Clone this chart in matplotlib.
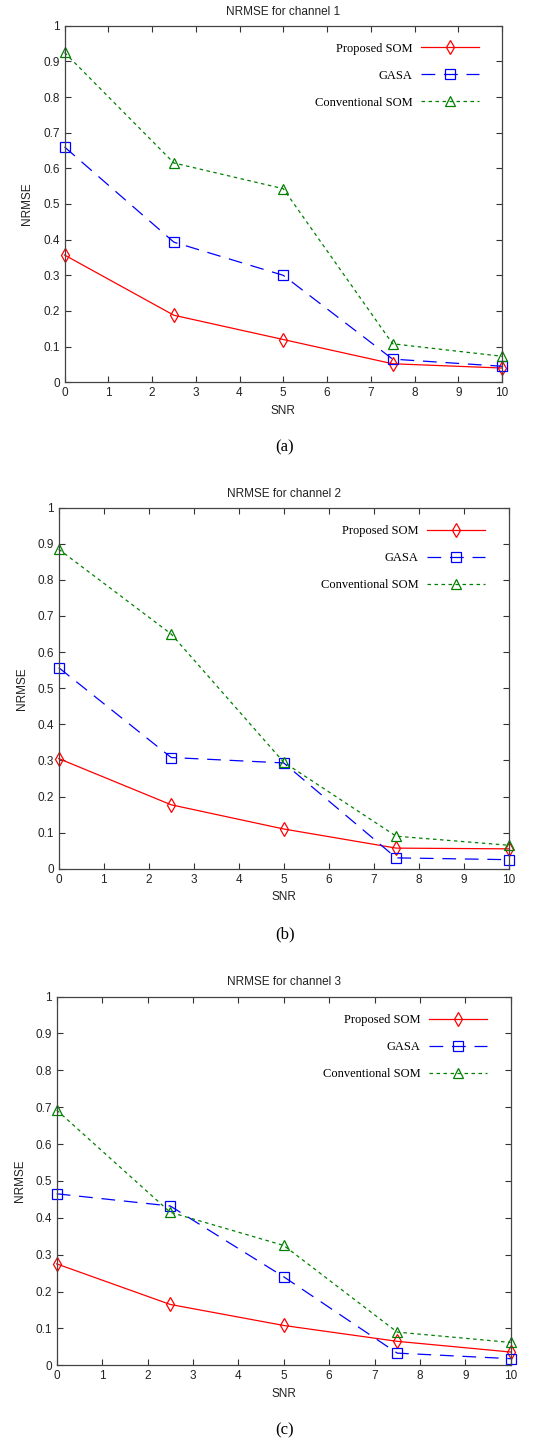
import matplotlib
matplotlib.use("Agg")
import matplotlib.pyplot as plt
from matplotlib.lines import Line2D

snr = [0, 2.5, 5, 7.5, 10]

ch1_proposed = [0.357, 0.188, 0.120, 0.052, 0.040]
ch1_gasa = [0.660, 0.393, 0.300, 0.065, 0.045]
ch1_conventional = [0.925, 0.615, 0.543, 0.108, 0.073]

ch2_proposed = [0.305, 0.177, 0.110, 0.057, 0.055]
ch2_gasa = [0.557, 0.308, 0.293, 0.030, 0.025]
ch2_conventional = [0.885, 0.650, 0.295, 0.090, 0.065]

ch3_proposed = [0.275, 0.165, 0.108, 0.065, 0.036]
ch3_gasa = [0.465, 0.432, 0.240, 0.033, 0.018]
ch3_conventional = [0.692, 0.415, 0.325, 0.090, 0.062]

titles = ["NRMSE for channel 1", "NRMSE for channel 2", "NRMSE for channel 3"]
captions = ["(a)", "(b)", "(c)"]
series_names = ["Proposed SOM", "GASA", "Conventional SOM"]
x_ticks = list(range(0, 11))
y_ticks = [0, 0.1, 0.2, 0.3, 0.4, 0.5, 0.6, 0.7, 0.8, 0.9, 1]
y_tick_labels = ["0", "0.1", "0.2", "0.3", "0.4", "0.5", "0.6", "0.7", "0.8", "0.9", "1"]

panels = [
    (ch1_proposed, ch1_gasa, ch1_conventional),
    (ch2_proposed, ch2_gasa, ch2_conventional),
    (ch3_proposed, ch3_gasa, ch3_conventional),
]

W, H = 544, 1443
fig = plt.figure(figsize=(W / 100, H / 100), dpi=100)
fig.patch.set_facecolor("white")

# axes boxes in pixels: left, right, top, bottom
boxes = [
    (64.5, 502.0, 25.7, 382.3),
    (58.7, 508.7, 507.7, 868.7),
    (56.7, 510.7, 996.5, 1365.3),
]
caption_y = [447, 934, 1430]

styles = [
    dict(color="#ff0000", ls="-", marker="d", ms=6.8),
    dict(color="#0000ff", ls=(0, (11, 7)), marker="s", ms=6.5),
    dict(color="#008000", ls=(0, (2.8, 2.8)), marker="^", ms=7),
]

sans = ["Liberation Sans", "DejaVu Sans"]
serif = ["Liberation Serif", "DejaVu Serif"]

for i, (series, (l, r, t, b)) in enumerate(zip(panels, boxes)):
    ax = fig.add_axes([l / W, (H - b) / H, (r - l) / W, (b - t) / H])
    handles = []
    for vals, st, name in zip(series, styles, series_names):
        kw = dict(color=st["color"], ls=st["ls"], lw=0.9,
                  marker=st["marker"], ms=st["ms"], mfc="none",
                  mec=st["color"], mew=0.9)
        ax.plot(snr, vals, clip_on=False, **kw)
        handles.append(Line2D([], [], **kw))
    ax.set_xlim(0, 10)
    ax.set_ylim(0, 1)
    ax.set_xticks(x_ticks)
    ax.set_yticks(y_ticks)
    ax.set_yticklabels(y_tick_labels)
    ax.tick_params(direction="in", length=4, width=0.8, top=True, right=True,
                   labelsize=8.5, pad=3.5, colors="#333333", labelcolor="#222222")
    for lab in ax.get_xticklabels() + ax.get_yticklabels():
        lab.set_family(sans)
    for sp in ax.spines.values():
        sp.set_linewidth(0.9)
        sp.set_color("#444444")
    ax.set_xlabel("SNR", fontsize=8.5, family=sans, labelpad=4, color="#222222")
    ax.set_ylabel("NRMSE", fontsize=8.5, family=sans, labelpad=7, color="#222222")
    ax.set_title(titles[i], fontsize=8.5, family=sans, pad=8, color="#222222")
    ax.legend(handles, series_names, loc="upper right",
              bbox_to_anchor=(0.947, 0.952), frameon=False,
              markerfirst=False, numpoints=1, handlelength=4.6,
              handletextpad=0.7, labelspacing=1.2, borderpad=0,
              borderaxespad=0, prop={"family": serif, "size": 9})
    fig.text(285 / W, 1 - caption_y[i] / H, captions[i],
             ha="center", va="center", fontsize=12, family=serif)

fig.savefig("out.png", dpi=100)
